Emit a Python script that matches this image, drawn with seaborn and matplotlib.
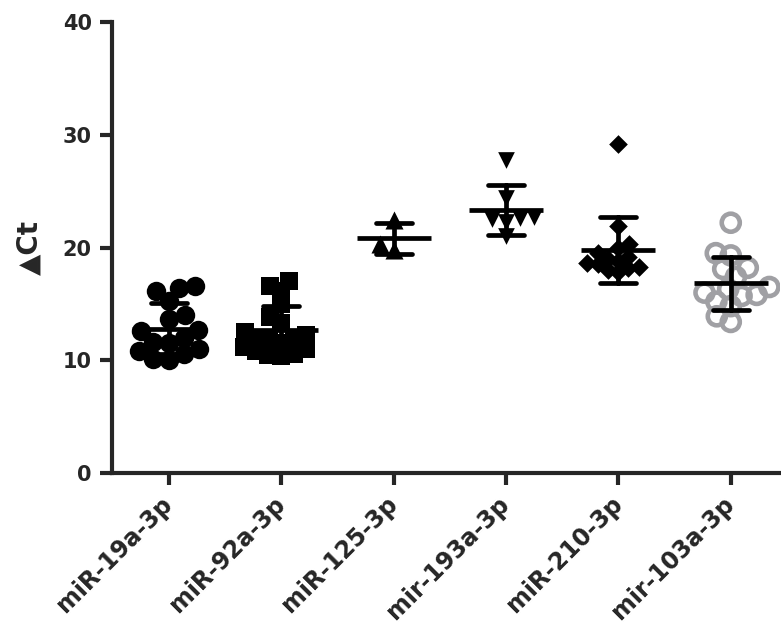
import numpy as np
import pandas as pd
import matplotlib
matplotlib.use("Agg")
import matplotlib.pyplot as plt
import seaborn as sns

sns.set_style("ticks")
plt.rcParams['font.family'] = ['DejaVu Sans']
plt.rcParams['font.weight'] = 'bold'

# delta Ct values, one list per miRNA
genes = ['miR-19a-3p', 'miR-92a-3p', 'miR-125-3p', 'mir-193a-3p', 'miR-210-3p', 'mir-103a-3p']
mir19a = [16.4, 15.3, 16.1, 16.6, 14.0, 13.7, 12.7, 12.6, 11.6, 11.5, 10.8, 10.6, 10.1, 10.0, 11.0, 12.0]
mir92a = [17.0, 16.1, 16.6, 15.0, 13.8, 13.3, 12.5, 12.2, 12.0, 11.9, 11.8, 11.5, 11.2, 11.0, 10.8, 10.6, 10.4, 10.5]
mir125 = [22.4, 19.8, 20.3]
mir193a = [27.8, 24.4, 22.6, 22.3, 22.5, 22.7, 21.0]
mir210 = [29.2, 21.9, 20.3, 20.0, 19.5, 19.2, 18.8, 18.5, 18.2, 18.0, 18.3, 18.6, 19.0, 17.8]
mir103a = [22.2, 19.5, 19.3, 18.2, 18.1, 17.4, 16.5, 16.0, 15.7, 15.8, 14.8, 13.9, 13.4, 15.2, 16.3]
yticks = [0, 10, 20, 30, 40]

values = [mir19a, mir92a, mir125, mir193a, mir210, mir103a]
df = pd.DataFrame({
    'gene': np.repeat(genes, [len(v) for v in values]),
    'dct': np.concatenate(values),
})

markers = ['o', 's', '^', 'v', 'D', 'o']
sizes = [14, 13, 13, 12, 9.5, 13]
colors = ['black', 'black', 'black', 'black', 'black', '#a0a0a4']
# swarm is laid out with smaller dots so the real ones overlap, like Prism
packs = [0.8, 0.68, 0.8, 0.8, 0.8, 0.8]

fig = plt.figure(figsize=(7.81, 6.42), dpi=100)
ax = fig.add_axes([0.1434, 0.2632, 0.855, 0.7025])

swarms = []
for g, m, s, c, p in zip(genes, markers, sizes, colors, packs):
    n_before = len(ax.collections)
    sns.swarmplot(data=df[df['gene'] == g], x='gene', y='dct', order=genes,
                  marker=m, size=s * p, color=c, ax=ax, zorder=2)
    for coll in ax.collections[n_before:]:
        if len(coll.get_offsets()) > 0:
            swarms.append((coll, s, g))

# mean +/- SD
sns.pointplot(data=df, x='gene', y='dct', order=genes, estimator='mean',
              errorbar='sd', capsize=0.32, color='black', linestyle='none',
              marker='_', markersize=53, markeredgewidth=3.4,
              err_kws={'linewidth': 3.4}, ax=ax, zorder=5)

ax.set_xlim(-0.507, 5.436)
ax.set_ylim(0, 40)
ax.set_yticks(yticks)
ax.set_xlabel('')
ax.set_ylabel('▲Ct', fontsize=20, fontweight='bold', labelpad=14)

for side in ['top', 'right']:
    ax.spines[side].set_visible(False)
for side in ['left', 'bottom']:
    ax.spines[side].set_linewidth(3)

ax.tick_params(axis='both', width=3, length=8.5, labelsize=15)
ax.tick_params(axis='x', pad=11)
ax.tick_params(axis='y', pad=6)
plt.setp(ax.get_xticklabels(), rotation=45, ha='right', va='center',
         rotation_mode='anchor', fontsize=17, fontweight='bold')
plt.setp(ax.get_yticklabels(), fontweight='bold')

# lay out the swarms, then freeze positions and grow the dots to full size
fig.canvas.draw()
for coll, s, g in swarms:
    if 'draw' in coll.__dict__:
        del coll.draw
    coll.set_sizes([s ** 2])
    if g == 'mir-103a-3p':
        coll.set_facecolor('none')
        coll.set_edgecolor('#a0a0a4')
        coll.set_linewidth(3.3)

fig.savefig('out.png', dpi=100)
